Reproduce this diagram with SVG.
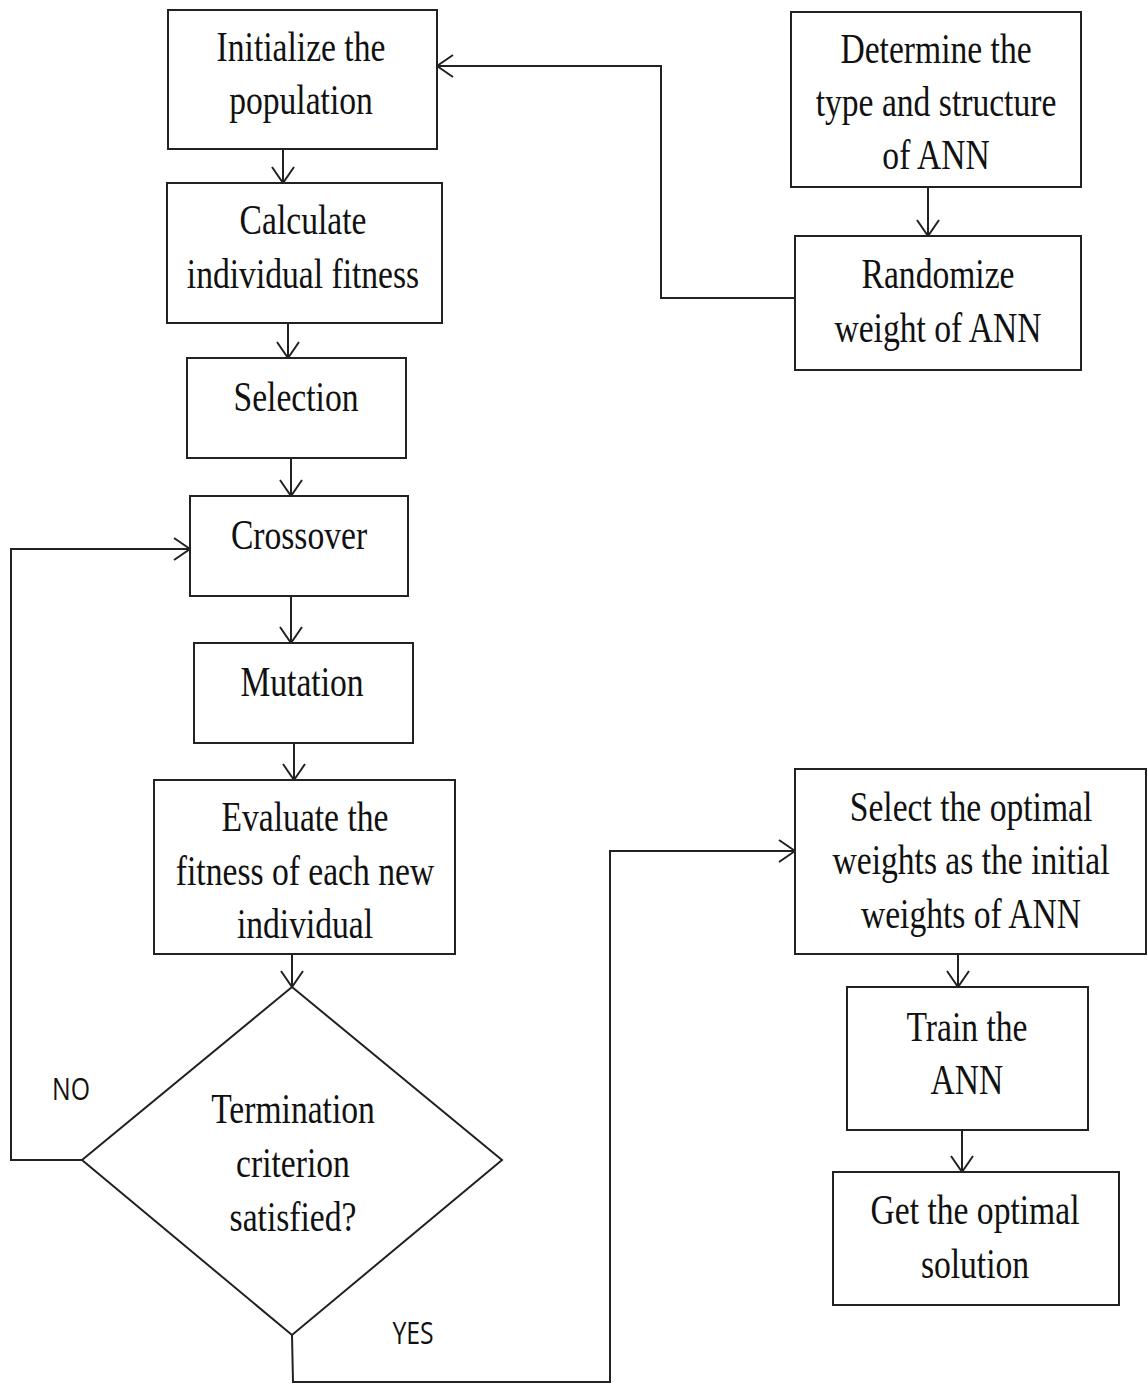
<svg xmlns="http://www.w3.org/2000/svg" width="1147" height="1384" viewBox="0 0 1147 1384">
<style>
.box{fill:#fff;stroke:#222;stroke-width:2}
.t{font-family:"Liberation Serif","Times New Roman",serif;font-size:42px;fill:#111;text-anchor:middle}
.s{font-family:"Open Sans","Liberation Sans",sans-serif;font-size:31px;fill:#111;text-anchor:middle}
.c{fill:none;stroke:#222;stroke-width:2}
</style>
<defs>
<marker id="ar" markerUnits="userSpaceOnUse" viewBox="0 0 18 24" markerWidth="18" markerHeight="24" refX="17" refY="12" orient="auto">
<path d="M1,1 L17,12 L1,23" fill="none" stroke="#222" stroke-width="2"/>
</marker>
</defs>
<rect width="1147" height="1384" fill="#fff"/>
<g id="connectors">
<line class="c" x1="283" y1="150" x2="283" y2="183" marker-end="url(#ar)"/>
<line class="c" x1="288" y1="323" x2="288" y2="358" marker-end="url(#ar)"/>
<line class="c" x1="291" y1="458" x2="291" y2="496" marker-end="url(#ar)"/>
<line class="c" x1="291" y1="596" x2="291" y2="643" marker-end="url(#ar)"/>
<line class="c" x1="294" y1="743" x2="294" y2="780" marker-end="url(#ar)"/>
<line class="c" x1="292" y1="954" x2="292" y2="987" marker-end="url(#ar)"/>
<line class="c" x1="928" y1="187" x2="928" y2="236" marker-end="url(#ar)"/>
<line class="c" x1="958" y1="954" x2="958" y2="987" marker-end="url(#ar)"/>
<line class="c" x1="962" y1="1130" x2="962" y2="1172" marker-end="url(#ar)"/>
<polyline class="c" points="795,298 661,298 661,66 437,66" marker-end="url(#ar)"/>
<polyline class="c" points="82,1160 11,1160 11,549 190,549" marker-end="url(#ar)"/>
<polyline class="c" points="292,1335 293,1382 610,1382 610,851 795,851" marker-end="url(#ar)"/>
<text class="s" transform="matrix(0.8,0,0,1,71,0)" x="0" y="1100">NO</text>
<text class="s" transform="matrix(0.8,0,0,1,413,0)" x="0" y="1344">YES</text>
</g>
<g id="n1"><rect class="box" x="168" y="10" width="269" height="139"/>
<text class="t" transform="matrix(0.8,0,0,1,301,0)"><tspan x="0" y="61">Initialize the</tspan><tspan x="0" y="114">population</tspan></text></g>
<g id="n2"><rect class="box" x="167" y="183" width="275" height="140"/>
<text class="t" transform="matrix(0.8,0,0,1,303,0)"><tspan x="0" y="234">Calculate</tspan><tspan x="0" y="288">individual fitness</tspan></text></g>
<g id="n3"><rect class="box" x="187" y="358" width="219" height="100"/>
<text class="t" transform="matrix(0.8,0,0,1,296,0)"><tspan x="0" y="411">Selection</tspan></text></g>
<g id="n4"><rect class="box" x="190" y="496" width="218" height="100"/>
<text class="t" transform="matrix(0.8,0,0,1,299,0)"><tspan x="0" y="549">Crossover</tspan></text></g>
<g id="n5"><rect class="box" x="194" y="643" width="219" height="100"/>
<text class="t" transform="matrix(0.8,0,0,1,302,0)"><tspan x="0" y="696">Mutation</tspan></text></g>
<g id="n6"><rect class="box" x="154" y="780" width="301" height="174"/>
<text class="t" transform="matrix(0.8,0,0,1,305,0)"><tspan x="0" y="831">Evaluate the</tspan><tspan x="0" y="885">fitness of each new</tspan><tspan x="0" y="938">individual</tspan></text></g>
<g id="n7"><polygon class="box" points="292,987 502,1160 292,1335 82,1160"/>
<text class="t" transform="matrix(0.8,0,0,1,293,0)"><tspan x="0" y="1123">Termination</tspan><tspan x="0" y="1177">criterion</tspan><tspan x="0" y="1231">satisfied?</tspan></text></g>
<g id="n8"><rect class="box" x="791" y="12" width="290" height="175"/>
<text class="t" transform="matrix(0.8,0,0,1,936,0)"><tspan x="0" y="63">Determine the</tspan><tspan x="0" y="116">type and structure</tspan><tspan x="0" y="169">of ANN</tspan></text></g>
<g id="n9"><rect class="box" x="795" y="236" width="286" height="134"/>
<text class="t" transform="matrix(0.8,0,0,1,938,0)"><tspan x="0" y="288">Randomize</tspan><tspan x="0" y="342">weight of ANN</tspan></text></g>
<g id="n10"><rect class="box" x="795" y="769" width="351" height="185"/>
<text class="t" transform="matrix(0.8,0,0,1,971,0)"><tspan x="0" y="821">Select the optimal</tspan><tspan x="0" y="874">weights as the initial</tspan><tspan x="0" y="928">weights of ANN</tspan></text></g>
<g id="n11"><rect class="box" x="847" y="987" width="241" height="143"/>
<text class="t" transform="matrix(0.8,0,0,1,967,0)"><tspan x="0" y="1041">Train the</tspan><tspan x="0" y="1094">ANN</tspan></text></g>
<g id="n12"><rect class="box" x="833" y="1172" width="286" height="133"/>
<text class="t" transform="matrix(0.8,0,0,1,975,0)"><tspan x="0" y="1224">Get the optimal</tspan><tspan x="0" y="1278">solution</tspan></text></g>
</svg>
